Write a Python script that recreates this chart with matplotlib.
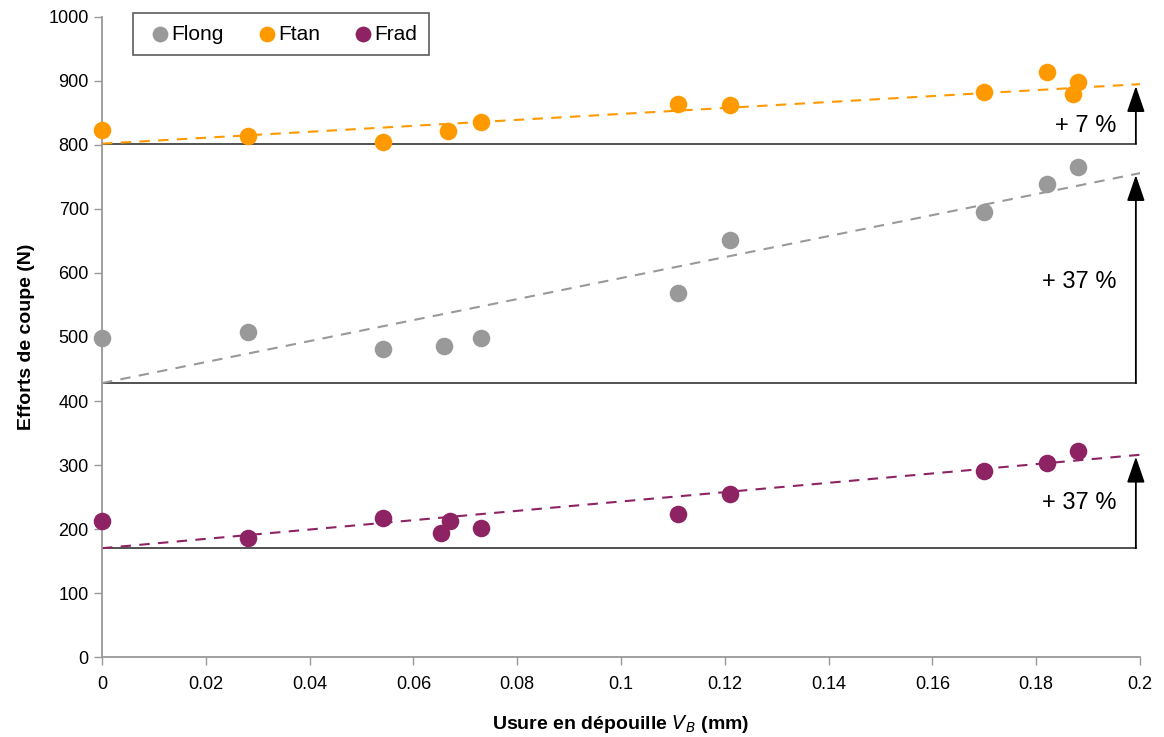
import matplotlib.pyplot as plt

# usure (mm) et efforts (N)
vb_long = [0, 0.0281, 0.0541, 0.0659, 0.073, 0.111, 0.121, 0.170, 0.182, 0.188]
flong = [498, 508, 481, 486, 498, 569, 652, 695, 739, 766]

vb_tan = [0, 0.0281, 0.0541, 0.0667, 0.073, 0.111, 0.121, 0.170, 0.182, 0.187, 0.188]
ftan = [823, 814, 805, 822, 836, 864, 862, 883, 914, 880, 898]

vb_rad = [0, 0.0281, 0.0541, 0.0653, 0.067, 0.073, 0.111, 0.121, 0.170, 0.182, 0.188]
frad = [212, 186, 217, 194, 212, 202, 223, 255, 291, 303, 322]

# tendances : valeur a VB=0 et a VB=0.2
trend_start = {"Flong": 428, "Ftan": 802, "Frad": 170}
trend_end = {"Flong": 756, "Ftan": 895, "Frad": 316}
gain_labels = {"Flong": "+ 37 %", "Ftan": "+ 7 %", "Frad": "+ 37 %"}
label_y = {"Flong": 586, "Ftan": 829, "Frad": 240}

colors = {"Flong": "#999999", "Ftan": "#FF9900", "Frad": "#8E2363"}

plt.rcParams['font.family'] = ['Liberation Sans', 'DejaVu Sans']

fig, ax = plt.subplots(figsize=(11.64, 7.37), dpi=100)
fig.subplots_adjust(left=0.0876, right=0.9794, top=0.977, bottom=0.1085)

series = [("Flong", vb_long, flong), ("Ftan", vb_tan, ftan), ("Frad", vb_rad, frad)]

for name, x, y in series:
    c = colors[name]
    ax.scatter(x, y, s=160, color=c, label=name, zorder=3, linewidths=0, clip_on=False)
    y0, y1 = trend_start[name], trend_end[name]
    ax.plot([0, 0.2], [y0, y1], ls=(0, (5, 4)), color=c, lw=1.5, zorder=2)
    ax.plot([0, 0.1992], [y0, y0], color="#333333", lw=1.2, zorder=1)
    ax.annotate("", xy=(0.1992, y1 - 3), xytext=(0.1992, y0),
                arrowprops=dict(arrowstyle="-|>,head_length=1.6,head_width=0.55",
                                color="black", lw=1.3, shrinkA=0, shrinkB=0))
    ax.text(0.1955, label_y[name], gain_labels[name], ha="right", va="center", fontsize=17)

ax.set_xlim(0, 0.2)
ax.set_ylim(0, 1000)
ax.set_xticks([0, 0.02, 0.04, 0.06, 0.08, 0.1, 0.12, 0.14, 0.16, 0.18, 0.2])
ax.set_xticklabels(["0", "0.02", "0.04", "0.06", "0.08", "0.1", "0.12", "0.14", "0.16", "0.18", "0.2"])
ax.set_yticks(range(0, 1001, 100))

for side in ["top", "right"]:
    ax.spines[side].set_visible(False)
for side in ["left", "bottom"]:
    ax.spines[side].set_color("#999999")
    ax.spines[side].set_linewidth(1.3)
ax.tick_params(axis="both", colors="#999999", labelcolor="black", labelsize=13, length=6, width=1)
ax.tick_params(axis="x", pad=8)

ax.set_xlabel("Usure en dépouille $V_B$ (mm)", fontsize=14, fontweight="bold", labelpad=14)
ax.set_ylabel("Efforts de coupe (N)", fontsize=14, fontweight="bold", labelpad=10)

leg = ax.legend(loc="upper left", bbox_to_anchor=(0.0299, 1.006), borderaxespad=0, ncol=3,
                fontsize=15, frameon=True, fancybox=False, edgecolor="#333333",
                handletextpad=-0.2, handlelength=1.5, columnspacing=1.3, borderpad=0.55,
                markerscale=0.9)
leg.get_frame().set_linewidth(1.2)

plt.savefig("out.png")
